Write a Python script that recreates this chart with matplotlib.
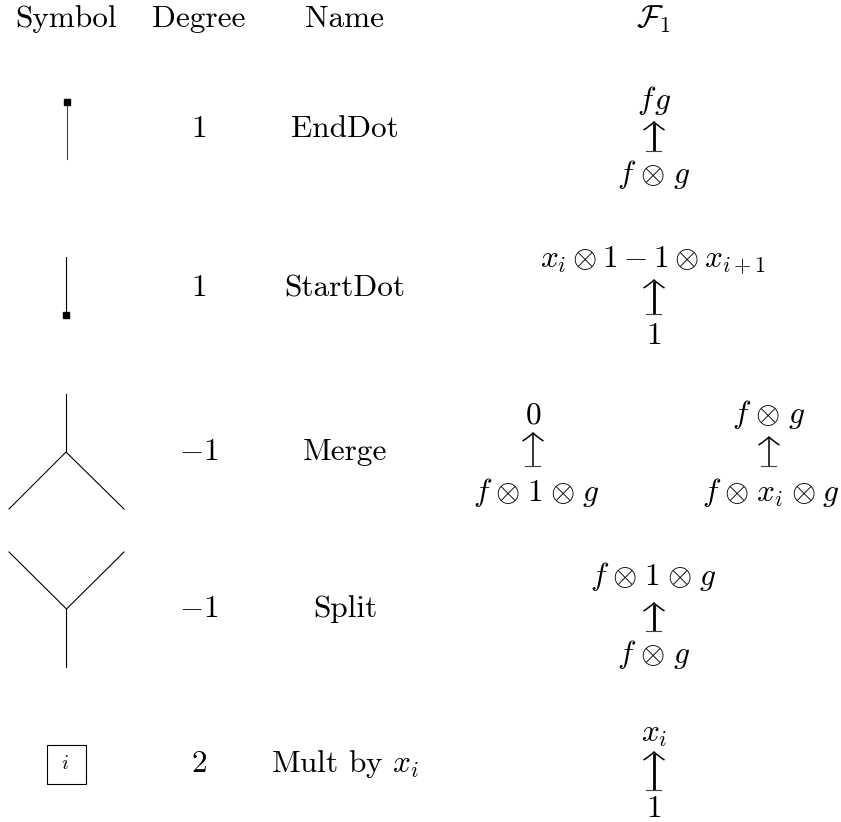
import matplotlib
matplotlib.use("Agg")
import matplotlib.pyplot as plt
from matplotlib.patches import Rectangle, PathPatch
from matplotlib.path import Path

plt.rcParams['mathtext.fontset'] = 'cm'
plt.rcParams['font.family'] = 'cmr10'
plt.rcParams['axes.formatter.use_mathtext'] = True

# table contents
headers = ["Symbol", "Degree", "Name", r"$\mathcal{F}_1$"]
header_x = [66, 199, 345, 654]
header_y = [27, 27, 27, 28]
degrees = ["1", "1", r"$-1$", r"$-1$", "2"]
names = ["EndDot", "StartDot", "Merge", "Split", r"Mult by $x_i$"]
row_y = [137, 296, 460, 617, 772]
deg_x = 199
name_x = 345

# spacing around the tensor sign
W = r"\hspace{0.11}\otimes\hspace{0.11}"
N = r"\hspace{0.07}\otimes\hspace{0.07}"

# F_1 column: x, baseline, label
f1_x = [654, 654, 653, 654, 533, 536, 769, 771, 653, 654, 654, 654]
f1_y = [109, 183, 267, 344, 423, 501, 423, 501, 585, 663, 742, 817]
f1_labels = [r"$f\hspace{0.08}g$", "$f" + W + "g$", r"$x_i\otimes 1-1\otimes x_{i+1}$", r"$1$",
             r"$0$", "$f" + N + "1" + N + "g$", "$f" + W + "g$", "$f" + N + "x_i" + N + "g$",
             "$f" + N + "1" + N + "g$", "$f" + W + "g$", r"$x_i$", r"$1$"]

# arrows: x, tip, base, stem width
arrow_x = [654, 654, 533, 769, 654, 654]
arrow_tip = [122, 280, 433, 437, 603, 752]
arrow_base = [151, 314, 466, 466, 631, 790]
arrow_lw = [2.0, 2.0, 1.1, 1.1, 2.0, 2.0]

fig = plt.figure(figsize=(8.41, 8.22), dpi=100)
ax = fig.add_axes([0, 0, 1, 1])
ax.set_xlim(0, 841)
ax.set_ylim(822, 0)
ax.axis('off')

fs = 22.5
for x, y, h in zip(header_x, header_y, headers):
    ax.text(x, y, h, fontsize=fs, ha='center', va='baseline')
for y, d, n in zip(row_y, degrees, names):
    ax.text(deg_x, y, d, fontsize=fs, ha='center', va='baseline')
    ax.text(name_x, y, n, fontsize=fs, ha='center', va='baseline')
for x, y, s in zip(f1_x, f1_y, f1_labels):
    ax.text(x, y, s, fontsize=fs, ha='center', va='baseline')

for x, tip, base, w in zip(arrow_x, arrow_tip, arrow_base, arrow_lw):
    ax.plot([x, x], [tip + 1, base], color='k', lw=w, solid_capstyle='butt')
    ax.plot([x - 7.5, x + 7.5], [base, base], color='0.25', lw=0.8)
    # curved head
    head = Path([(x - 10.5, tip + 8), (x - 4, tip + 4), (x, tip),
                 (x + 4, tip + 4), (x + 10.5, tip + 8)],
                [Path.MOVETO, Path.CURVE3, Path.CURVE3, Path.CURVE3, Path.CURVE3])
    ax.add_patch(PathPatch(head, fill=False, ec='k', lw=1.1))

# symbols
lw = 0.8
ax.plot([67, 67], [102, 159], color='0.25', lw=lw)
ax.plot([67], [102], marker='s', color='k', ms=5)
ax.plot([66.5, 66.5], [257, 315], color='k', lw=lw)
ax.plot([66.5], [315], marker='s', color='k', ms=5)
ax.plot([66, 66], [394, 452], color='k', lw=lw)
ax.plot([9, 66, 124], [509, 452, 509], color='k', lw=lw)
ax.plot([66.5, 66.5], [667, 609], color='k', lw=lw)
ax.plot([9, 66.5, 124], [552, 609, 552], color='k', lw=lw)
ax.add_patch(Rectangle((47.5, 745), 38.5, 38.5, fill=False, ec='k', lw=lw))
ax.text(64.5, 769, r"$i$", fontsize=14.5, ha='center', va='baseline')

fig.savefig('out.png', dpi=100)
